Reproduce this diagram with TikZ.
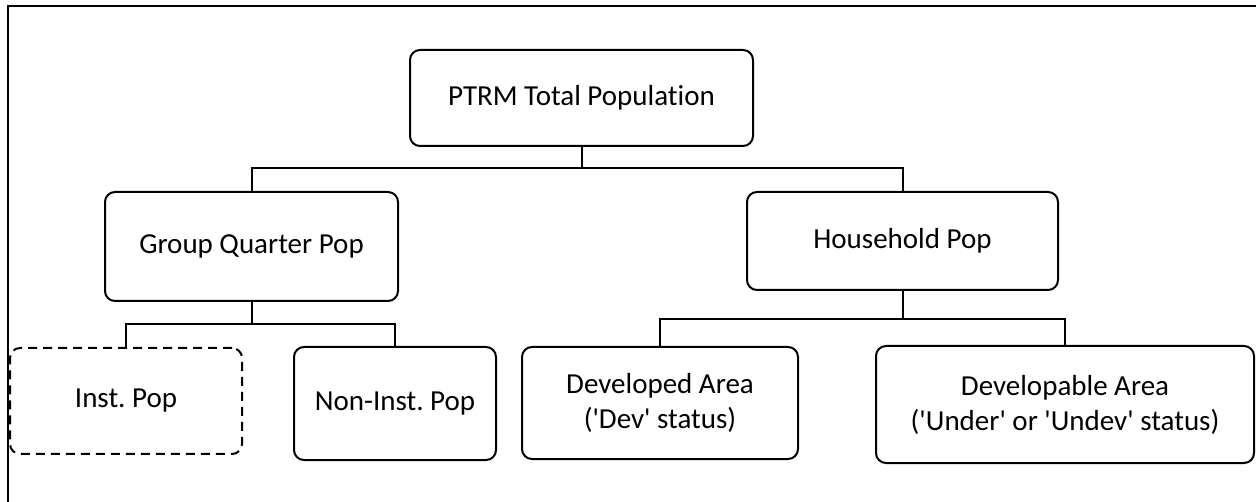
\documentclass[tikz,border=0pt]{standalone}
\usepackage{fontspec}
\setmainfont{Carlito}[Ligatures={TeXOff,NoCommon}]
\frenchspacing
\begin{document}
\begin{tikzpicture}[x=1pt,y=-1pt,
  box/.style={draw=black,line width=2pt,rounded corners=10pt,inner sep=0pt,align=center,
    font=\fontsize{29}{35}\selectfont},
  conn/.style={draw=black,line width=2pt},
  dbox/.style={box,dash pattern=on 9pt off 6pt}]
\useasboundingbox (0,0) rectangle (1256,502);
\clip (0,0) rectangle (1256,502);
\draw[line width=2pt] (8,520) -- (8,6) -- (1270,6);
\node[box,minimum width=343pt,minimum height=96pt] (top) at (581.5,98) {PTRM Total Population};
\node[box,minimum width=293pt,minimum height=109pt] (gq) at (251.5,246.5) {Group Quarter Pop};
\node[box,minimum width=311pt,minimum height=98pt] (hh) at (902.5,241) {Household Pop};
\node[dbox,minimum width=232pt,minimum height=106pt] (inst) at (126,401) {Inst. Pop};
\node[box,minimum width=202pt,minimum height=113pt] (non) at (395,403.5) {Non-Inst. Pop};
\node[box,minimum width=276pt,minimum height=112pt] (dev) at (660,403) {Developed Area\\('Dev' status)};
\node[box,minimum width=378pt,minimum height=117pt] (dvb) at (1065,404.5) {Developable Area\\('Under' or 'Undev' status)};
\coordinate (j1) at (581.5,168);
\coordinate (j2) at (251.5,324);
\coordinate (j3) at (902.5,319);
\draw[conn] (top) -- (j1) -| (gq);
\draw[conn] (j1) -| (hh);
\draw[conn] (gq) -- (j2) -| (inst);
\draw[conn] (j2) -| (non);
\draw[conn] (hh) -- (j3) -| (dev);
\draw[conn] (j3) -| (dvb);
\end{tikzpicture}
\end{document}
